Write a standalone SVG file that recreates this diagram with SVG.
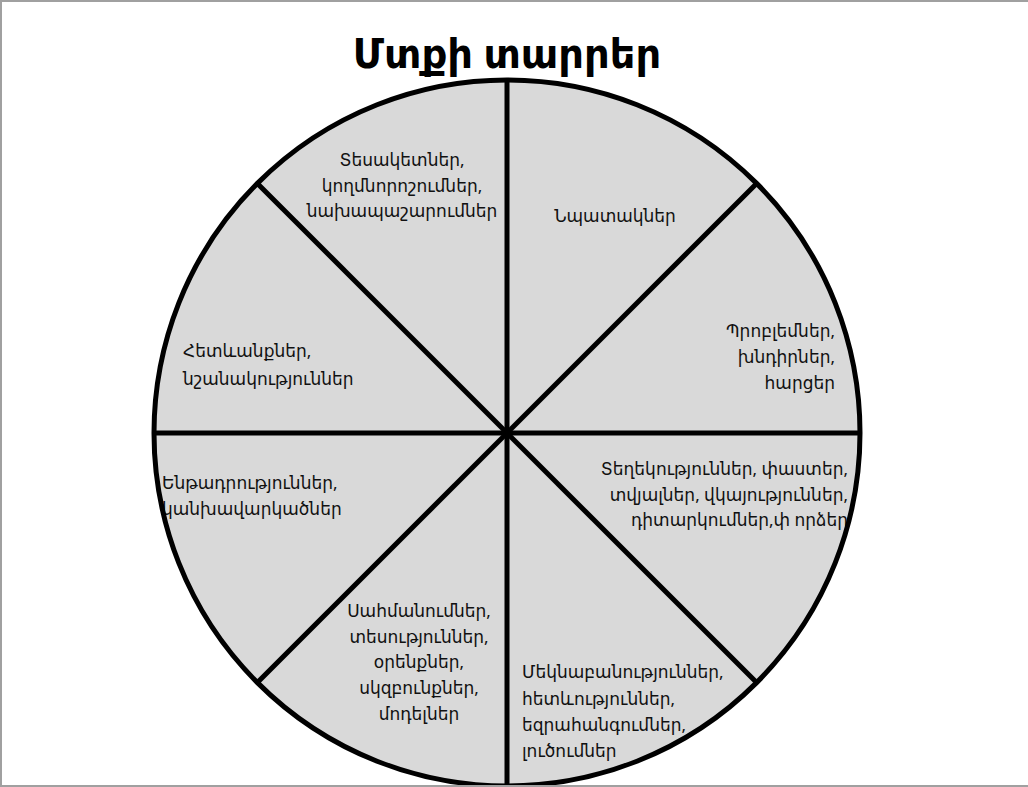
<svg xmlns="http://www.w3.org/2000/svg" width="1028" height="787" viewBox="0 0 1028 787">
<style>
.w{fill:#d9d9d9;stroke:none}
.t{font-family:"Noto Sans","DejaVu Sans",sans-serif;font-size:17px;fill:#111}
.c{text-anchor:middle}
.r{text-anchor:end}
.ln{stroke:#000;stroke-width:5;fill:none}
</style>
<rect x="0" y="0" width="1028" height="787" fill="#fff"/>
<rect x="1" y="1" width="1030" height="785" fill="none" stroke="#a0a0a0" stroke-width="2"/>
<text x="507" y="68" text-anchor="middle" font-family="Noto Sans, DejaVu Sans, sans-serif" font-weight="bold" font-size="40" fill="#000">Մտքի տարրեր</text>
<g id="n-top-right">
<path class="w" d="M507,433 L507,80 A353,353 0 0 1 756.6,183.4 Z"/>
<text class="t c" x="615" y="222">Նպատակներ</text>
</g>
<g id="n-right-up">
<path class="w" d="M507,433 L756.6,183.4 A353,353 0 0 1 860,433 Z"/>
<text class="t r" x="835" y="337">Պրոբլեմներ,</text>
<text class="t r" x="835" y="363">խնդիրներ,</text>
<text class="t r" x="835" y="389">հարցեր</text>
</g>
<g id="n-right-down">
<path class="w" d="M507,433 L860,433 A353,353 0 0 1 756.6,682.6 Z"/>
<text class="t r" x="848" y="475">Տեղեկություններ, փաստեր,</text>
<text class="t r" x="848" y="501">տվյալներ, վկայություններ,</text>
<text class="t r" x="848" y="526">դիտարկումներ,փ որձեր</text>
</g>
<g id="n-bottom-right">
<path class="w" d="M507,433 L756.6,682.6 A353,353 0 0 1 507,786 Z"/>
<text class="t" x="522" y="678">Մեկնաբանություններ,</text>
<text class="t" x="522" y="705">հետևություններ,</text>
<text class="t" x="522" y="731">եզրահանգումներ,</text>
<text class="t" x="522" y="757">լուծումներ</text>
</g>
<g id="n-bottom-left">
<path class="w" d="M507,433 L507,786 A353,353 0 0 1 257.4,682.6 Z"/>
<text class="t c" x="419" y="617">Սահմանումներ,</text>
<text class="t c" x="419" y="643">տեսություններ,</text>
<text class="t c" x="419" y="668">օրենքներ,</text>
<text class="t c" x="419" y="694">սկզբունքներ,</text>
<text class="t c" x="419" y="720">մոդելներ</text>
</g>
<g id="n-left-down">
<path class="w" d="M507,433 L257.4,682.6 A353,353 0 0 1 154,433 Z"/>
<text class="t" x="162" y="489">Ենթադրություններ,</text>
<text class="t" x="162" y="515">կանխավարկածներ</text>
</g>
<g id="n-left-up">
<path class="w" d="M507,433 L154,433 A353,353 0 0 1 257.4,183.4 Z"/>
<text class="t" x="183" y="357">Հետևանքներ,</text>
<text class="t" x="183" y="385">նշանակություններ</text>
</g>
<g id="n-top-left">
<path class="w" d="M507,433 L257.4,183.4 A353,353 0 0 1 507,80 Z"/>
<text class="t c" x="402" y="166">Տեսակետներ,</text>
<text class="t c" x="402" y="192">կողմնորոշումներ,</text>
<text class="t c" x="402" y="217">նախապաշարումներ</text>
</g>
<g id="connectors">
<circle class="ln" cx="507" cy="433" r="353"/>
<line class="ln" x1="507" y1="80" x2="507" y2="786"/>
<line class="ln" x1="154" y1="433" x2="860" y2="433"/>
<line class="ln" x1="257.4" y1="183.4" x2="756.6" y2="682.6"/>
<line class="ln" x1="756.6" y1="183.4" x2="257.4" y2="682.6"/>
</g>
<line x1="0" y1="786" x2="1028" y2="786" stroke="#a0a0a0" stroke-width="2"/>
</svg>
